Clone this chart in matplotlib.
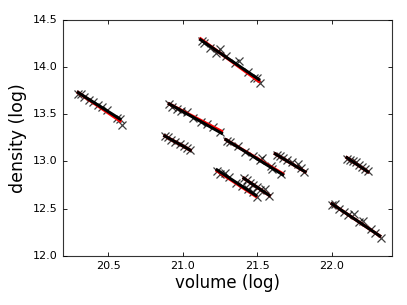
import matplotlib
matplotlib.use("Agg")
import matplotlib.pyplot as plt

plt.style.use("classic")
plt.rcParams["font.family"] = ["DejaVu Sans"]

# ---- data: scatter groups (log volume, log density) ----
a_x = [20.30, 20.32, 20.34, 20.37, 20.40, 20.43, 20.46, 20.49, 20.56, 20.58, 20.59]
a_y = [13.72, 13.71, 13.68, 13.65, 13.63, 13.60, 13.58, 13.55, 13.46, 13.45, 13.39]
t_x = [21.13, 21.14, 21.18, 21.22, 21.25, 21.29, 21.35, 21.38, 21.44, 21.48, 21.50, 21.52]
t_y = [14.28, 14.26, 14.20, 14.15, 14.19, 14.12, 14.04, 14.07, 13.95, 13.89, 13.88, 13.83]
b_x = [20.91, 20.93, 20.96, 20.99, 21.03, 21.07, 21.12, 21.16, 21.20, 21.25]
b_y = [13.61, 13.58, 13.56, 13.54, 13.52, 13.46, 13.42, 13.40, 13.36, 13.31]
c_x = [20.88, 20.90, 20.92, 20.95, 20.98, 21.01, 21.03, 21.05]
c_y = [13.27, 13.26, 13.23, 13.21, 13.18, 13.16, 13.14, 13.12]
d_x = [21.30, 21.32, 21.37, 21.42, 21.47, 21.52, 21.53, 21.59, 21.60, 21.66]
d_y = [13.22, 13.21, 13.16, 13.10, 13.06, 13.02, 13.04, 12.95, 12.92, 12.87]
e_x = [21.63, 21.65, 21.67, 21.70, 21.73, 21.77, 21.79, 21.81]
e_y = [13.07, 13.06, 13.04, 13.02, 12.99, 12.97, 12.93, 12.89]
f_x = [22.10, 22.12, 22.14, 22.16, 22.18, 22.20, 22.22, 22.24]
f_y = [13.03, 13.02, 13.00, 12.99, 12.96, 12.94, 12.92, 12.90]
g_x = [22.00, 22.02, 22.05, 22.08, 22.11, 22.15, 22.18, 22.21, 22.26, 22.29, 22.33]
g_y = [12.54, 12.55, 12.50, 12.46, 12.43, 12.44, 12.36, 12.37, 12.28, 12.24, 12.19]
h_x = [21.23, 21.25, 21.28, 21.31, 21.36, 21.40, 21.44, 21.47, 21.50]
h_y = [12.90, 12.87, 12.88, 12.83, 12.77, 12.74, 12.71, 12.68, 12.62]
i_x = [21.41, 21.43, 21.45, 21.47, 21.50, 21.52, 21.55, 21.58]
i_y = [12.82, 12.80, 12.77, 12.75, 12.73, 12.70, 12.71, 12.63]

# ---- fitted lines (endpoints): black fit and red fit ----
a_fit_x = [20.30, 20.58]; a_fit_y = [13.73, 13.45]; a_red_y = [13.73, 13.43]
t_fit_x = [21.12, 21.51]; t_fit_y = [14.29, 13.87]; t_red_y = [14.30, 13.85]
b_fit_x = [20.91, 21.26]; b_fit_y = [13.61, 13.30]; b_red_y = [13.61, 13.32]
c_fit_x = [20.88, 21.05]; c_fit_y = [13.27, 13.12]; c_red_y = [13.27, 13.12]
d_fit_x = [21.29, 21.67]; d_fit_y = [13.23, 12.86]; d_red_y = [13.23, 12.87]
e_fit_x = [21.62, 21.82]; e_fit_y = [13.08, 12.89]; e_red_y = [13.08, 12.89]
f_fit_x = [22.10, 22.24]; f_fit_y = [13.04, 12.89]; f_red_y = [13.04, 12.89]
g_fit_x = [22.00, 22.32]; g_fit_y = [12.55, 12.21]; g_red_y = [12.55, 12.21]
h_fit_x = [21.23, 21.49]; h_fit_y = [12.91, 12.64]; h_red_y = [12.90, 12.63]
i_fit_x = [21.41, 21.58]; i_fit_y = [12.82, 12.64]; i_red_y = [12.82, 12.64]

groups = [
    (a_x, a_y, a_fit_x, a_fit_y, a_red_y),
    (t_x, t_y, t_fit_x, t_fit_y, t_red_y),
    (b_x, b_y, b_fit_x, b_fit_y, b_red_y),
    (c_x, c_y, c_fit_x, c_fit_y, c_red_y),
    (d_x, d_y, d_fit_x, d_fit_y, d_red_y),
    (e_x, e_y, e_fit_x, e_fit_y, e_red_y),
    (f_x, f_y, f_fit_x, f_fit_y, f_red_y),
    (g_x, g_y, g_fit_x, g_fit_y, g_red_y),
    (h_x, h_y, h_fit_x, h_fit_y, h_red_y),
    (i_x, i_y, i_fit_x, i_fit_y, i_red_y),
]

x_ticks = [20.5, 21.0, 21.5, 22.0]
y_ticks = [12.0, 12.5, 13.0, 13.5, 14.0, 14.5]

fig = plt.figure(figsize=(4.07, 3.05), dpi=100, facecolor="white")
ax = fig.add_subplot(111)
fig.subplots_adjust(left=0.1555, right=0.9624, bottom=0.1616, top=0.9344)

for gx, gy, fx, fy, ry in groups:
    ax.plot(gx, gy, linestyle="none", marker="x", color="black", alpha=0.75,
            markersize=5.5, markeredgewidth=0.9, zorder=2)
    ax.plot(fx, ry, color="red", linewidth=2.2, zorder=3)
    ax.plot(fx, fy, color="black", linewidth=2.2, zorder=4)

ax.set_xlim(20.2, 22.4)
ax.set_ylim(12.0, 14.5)
ax.set_xticks(x_ticks)
ax.set_yticks(y_ticks)
ax.set_xticklabels([f"{v:.1f}" for v in x_ticks], fontsize=8)
ax.set_yticklabels([f"{v:.1f}" for v in y_ticks], fontsize=8)
ax.tick_params(direction="in", length=3, width=0.6, colors="black", top=True, right=True)
for s in ax.spines.values():
    s.set_linewidth(0.8)
    s.set_color("#333333")
ax.set_xlabel("volume (log)", fontsize=12, labelpad=2)
ax.set_ylabel("density (log)", fontsize=12.5, labelpad=4)

fig.savefig("out.png", dpi=100, facecolor="white")
